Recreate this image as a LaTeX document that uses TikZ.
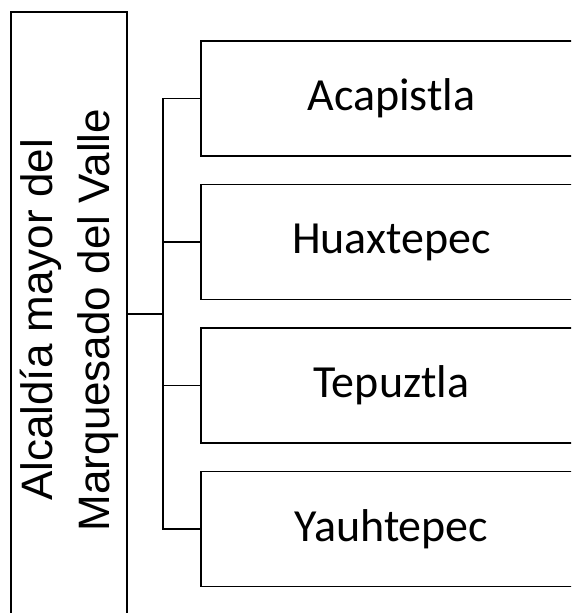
\documentclass[tikz,border=0pt]{standalone}
\usepackage{fontspec}
\setmainfont{Carlito}
\newfontfamily\arialfont{Liberation Sans}

\tikzset{
  towns/.style={draw, line width=1.3pt, minimum width=381pt, minimum height=115pt,
    inner sep=0pt, font=\fontsize{46}{55}\selectfont},
  alcaldia/.style={draw, line width=1.3pt, rotate=90, minimum width=616pt,
    minimum height=116pt, inner sep=0pt, align=center,
    font=\arialfont\fontsize{44}{57}\selectfont},
  tree/.style={line width=1.3pt}
}

\begin{document}
\begin{tikzpicture}[x=1pt,y=-1pt]
  \useasboundingbox (0,0) rectangle (571,613);
  \clip (0,0) rectangle (571,613);

  \node[alcaldia] (A) at (69,320) {Alcaldía mayor del\\Marquesado del Valle};
  \node[towns] (T1) at (391.5,98.5) {Acapistla};
  \node[towns] (T2) at (391.5,242) {Huaxtepec};
  \node[towns] (T3) at (391.5,385.5) {Tepuztla};
  \node[towns] (T4) at (391.5,529) {Yauhtepec};

  \coordinate (fork) at (163,314);

  \draw[tree] (A.south |- fork) -- (fork);
  \draw[tree] (fork) |- (T1.west);
  \draw[tree] (fork) |- (T2.west);
  \draw[tree] (fork) |- (T3.west);
  \draw[tree] (fork) |- (T4.west);
\end{tikzpicture}
\end{document}
